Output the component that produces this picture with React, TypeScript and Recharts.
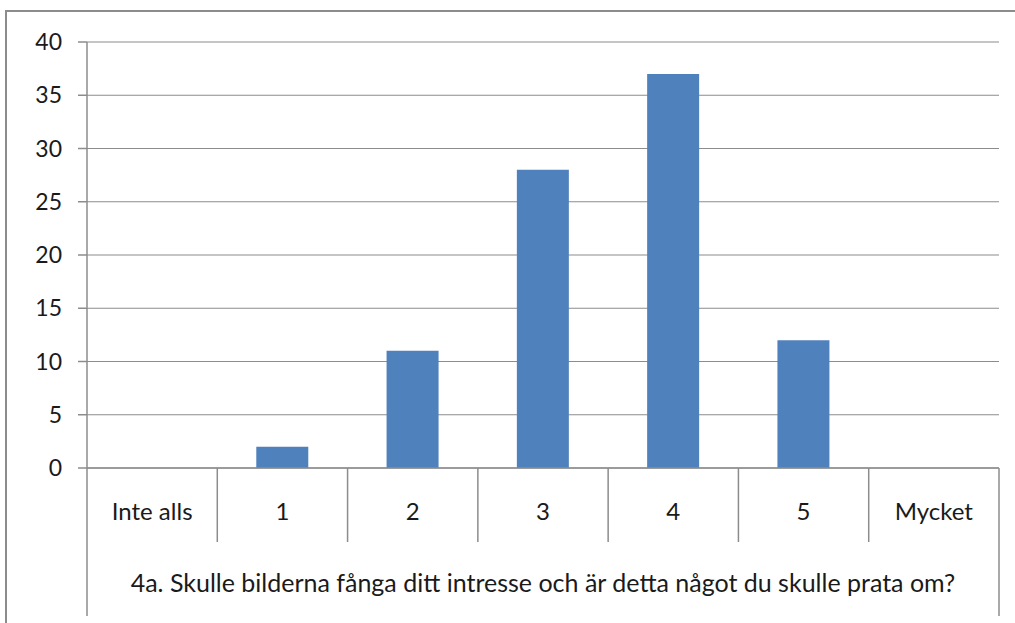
import { BarChart, Bar, XAxis, YAxis, CartesianGrid } from 'recharts';

const categories = ['Inte alls', '1', '2', '3', '4', '5', 'Mycket'];
const counts = [0, 2, 11, 28, 37, 12, 0];
const yTicks = [0, 5, 10, 15, 20, 25, 30, 35, 40];
const axisTitle = '4a. Skulle bilderna fånga ditt intresse och är detta något du skulle prata om?';

const data = categories.map((name, i) => ({ name, count: counts[i] }));

const FONT = 'Lato, "Open Sans", sans-serif';
const LINE = '#8c8c8c';
const TEXT = '#1a1a1a';

// draws the category label plus the table-like separators under the axis
function CategoryTick(props: any) {
  const { x, y, payload, index } = props;
  const half = payload.offset || 65;
  const last = index === categories.length - 1;
  return (
    <g>
      <line
        x1={x - half}
        x2={x - half}
        y1={y}
        y2={index === 0 ? y + 148 : y + 74}
        stroke={LINE}
        strokeWidth={1.5}
      />
      {last && (
        <line x1={x + half} x2={x + half} y1={y} y2={y + 148} stroke={LINE} strokeWidth={1.5} />
      )}
      <text x={x} y={y + 52} textAnchor="middle" fill={TEXT} fontSize={24} fontFamily={FONT}>
        {payload.value}
      </text>
    </g>
  );
}

function App() {
  return (
    <div style={{ position: 'absolute', left: 0, top: 0, width: 1015, height: 623, background: '#fff', overflow: 'hidden' }}>
      <div
        style={{
          position: 'absolute',
          left: 5,
          top: 10,
          width: 1100,
          height: 700,
          borderTop: `2px solid ${LINE}`,
          borderLeft: `2px solid ${LINE}`
        }}
      />
      <div style={{ position: 'absolute', left: 0, top: 0 }}>
        <BarChart
          width={1015}
          height={623}
          data={data}
          margin={{ top: 42, right: 16, bottom: 0, left: 27 }}
          barCategoryGap={0}
        >
          <CartesianGrid vertical={false} stroke={LINE} strokeWidth={1.2} />
          <XAxis
            dataKey="name"
            height={155}
            axisLine={{ stroke: LINE, strokeWidth: 1.5 }}
            tickLine={false}
            tickSize={0}
            tickMargin={0}
            interval={0}
            tick={<CategoryTick />}
            label={{
              value: axisTitle,
              position: 'insideBottom',
              offset: 31,
              fontSize: 25,
              fontFamily: FONT,
              fill: TEXT
            }}
          />
          <YAxis
            width={60}
            domain={[0, 40]}
            ticks={yTicks}
            interval={0}
            tickSize={9}
            tickMargin={16}
            axisLine={{ stroke: LINE, strokeWidth: 1.5 }}
            tickLine={{ stroke: LINE, strokeWidth: 1.5 }}
            tick={{ fontSize: 23, fontFamily: FONT, fill: TEXT }}
          />
          <Bar dataKey="count" fill="#4f81bd" barSize={52} isAnimationActive={false} />
        </BarChart>
      </div>
    </div>
  );
}

export default App;
